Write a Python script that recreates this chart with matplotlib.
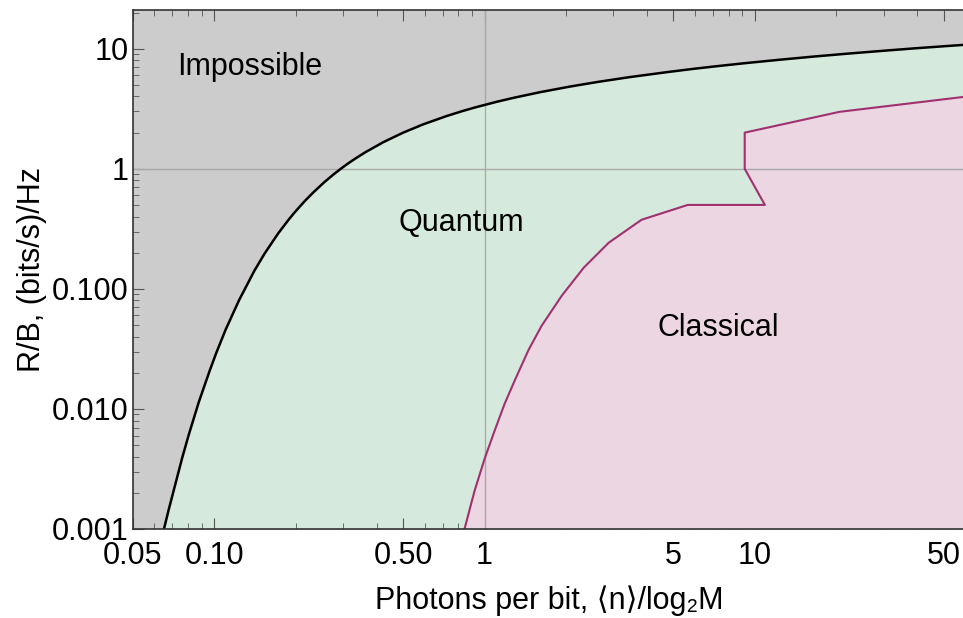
import numpy as np
import matplotlib.pyplot as plt
import matplotlib as mpl
from matplotlib.ticker import FixedLocator, LogLocator, NullFormatter

mpl.rcParams['font.family'] = ['Liberation Sans', 'DejaVu Sans']

# quantum limit (black curve)
quantum_x = [0.0651, 0.0679, 0.0761, 0.0806, 0.0876, 0.0961, 0.1018, 0.110, 0.1236,
             0.1408, 0.1533, 0.1724, 0.1877, 0.1977, 0.2069, 0.2181, 0.2335, 0.2564,
             0.277, 0.296, 0.314, 0.331, 0.363, 0.4213, 0.5, 0.5953, 0.726, 0.8276,
             0.9245, 1.108, 1.282, 1.610, 2.069, 2.641, 3.448, 4.71, 5.897, 7.04,
             9.232, 12.36, 16.32, 22.0, 31.0, 39.6, 56.2, 64.2]
quantum_y = [0.001, 0.00147, 0.00394, 0.0062, 0.0114, 0.0208, 0.0295, 0.0455, 0.0809,
             0.142, 0.196, 0.290, 0.373, 0.430, 0.483, 0.550, 0.642, 0.780,
             0.902, 1.013, 1.115, 1.208, 1.377, 1.662, 2.0, 2.352, 2.755, 3.021,
             3.245, 3.610, 3.90, 4.349, 4.834, 5.300, 5.80, 6.37, 6.783, 7.10,
             7.582, 8.09, 8.577, 9.09, 9.67, 10.09, 10.67, 10.9]

# classical limit (purple curve)
classical_x = [0.843, 0.918, 1.0, 1.089, 1.186, 1.291, 1.455, 1.626, 1.929, 2.326,
               2.88, 3.81, 5.65, 10.9, 9.18, 9.18, 20.6, 60.0]
classical_y = [0.001, 0.00207, 0.00383, 0.00656, 0.011, 0.0171, 0.0310, 0.0492,
               0.0874, 0.1496, 0.242, 0.376, 0.5, 0.5, 1.0, 2.0, 2.98, 3.98]

x_ticks = [0.05, 0.10, 0.50, 1, 5, 10, 50]
x_tick_labels = ['0.05', '0.10', '0.50', '1', '5', '10', '50']
y_ticks = [0.001, 0.01, 0.1, 1, 10]
y_tick_labels = ['0.001', '0.010', '0.100', '1', '10']

xmin, xmax = 0.05, 60
ymin, ymax = 0.001, 21

fig = plt.figure(figsize=(9.63, 6.18), dpi=100)
ax = fig.add_axes([133/963, 89/618, 832/963, 519/618])
ax.set_xscale('log')
ax.set_yscale('log')
ax.set_xlim(xmin, xmax)
ax.set_ylim(ymin, ymax)

# impossible region = background
ax.set_facecolor('#cccccc')

# quantum region under the black curve
ax.fill_between(quantum_x, quantum_y, ymin / 10, color='#d5eadd', lw=0, zorder=1)

# classical region under the purple curve
cx = classical_x + [xmax * 2, xmax * 2, classical_x[0]]
cy = classical_y + [classical_y[-1], ymin / 10, ymin / 10]
ax.fill(cx, cy, color='#ebd6e2', lw=0, zorder=2)

# the two grid lines
ax.axvline(1, color='#a8a8a8', lw=1, zorder=3)
ax.axhline(1, color='#a8a8a8', lw=1, zorder=3)

ax.plot(quantum_x, quantum_y, color='black', lw=1.8, zorder=4)
ax.plot(classical_x, classical_y, color='#a0306e', lw=1.5, zorder=4)

ax.text(0.0729, 7.08, 'Impossible', fontsize=22, ha='left', va='center')
ax.text(0.48, 0.355, 'Quantum', fontsize=22, ha='left', va='center')
ax.text(4.37, 0.0473, 'Classical', fontsize=22, ha='left', va='center')

ax.xaxis.set_major_locator(FixedLocator(x_ticks))
ax.set_xticklabels(x_tick_labels)
ax.yaxis.set_major_locator(FixedLocator(y_ticks))
ax.set_yticklabels(y_tick_labels)
ax.xaxis.set_minor_locator(LogLocator(base=10, subs=np.arange(1, 10) * 1.0, numticks=20))
ax.yaxis.set_minor_locator(LogLocator(base=10, subs=np.arange(1, 10) * 1.0, numticks=20))
ax.xaxis.set_minor_formatter(NullFormatter())
ax.yaxis.set_minor_formatter(NullFormatter())

ax.tick_params(which='both', direction='in', top=True, right=False, colors='#555555',
               labelcolor='black', labelsize=22)
ax.tick_params(which='major', length=8, width=0.8)
ax.tick_params(which='minor', length=4, width=0.6)
ax.tick_params(axis='x', pad=9)
ax.tick_params(axis='y', pad=3)

for s in ax.spines.values():
    s.set_color('#333333')
    s.set_linewidth(1.2)
    s.set_zorder(5)
ax.spines['right'].set_visible(False)

ax.set_xlabel('Photons per bit, \u27e8n\u27e9/log\u2082M', fontsize=22, labelpad=10)
ax.set_ylabel('R/B, (bits/s)/Hz', fontsize=22, labelpad=4)

fig.savefig('out.png', dpi=100)
